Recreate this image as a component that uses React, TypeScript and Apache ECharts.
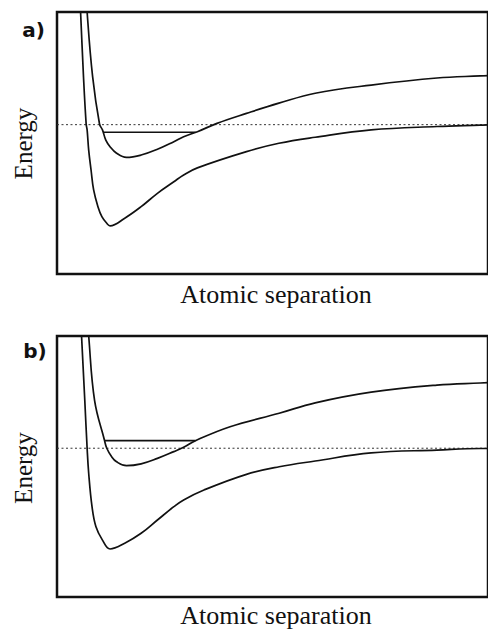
import React, { useEffect, useRef } from "react";
import * as echarts from "echarts";

// Panel a) — [separation, energy] (energy 0 = dissociation level)
const lowerA: [number, number][] = [
  [5.34, 50.6], [5.58, 43.0], [6.27, 18.3], [6.9, 0.25], [7.13, -2.0], [7.5, -9.7],
  [8.06, -17.3], [8.67, -24.9], [9.69, -31.3], [10.62, -35.1], [11.78, -37.65],
  [12.55, -38.6], [16.03, -35.7], [19.91, -31.3], [23.77, -26.2], [27.65, -21.8],
  [29.97, -19.2], [33.22, -16.5], [44.84, -10.3], [52.51, -7.1], [61.11, -4.8],
  [74.35, -2.0], [89.92, -0.7], [100.14, -0.2], [102, -0.1],
];
const upperA: [number, number][] = [
  [6.97, 50.6], [7.13, 43.0], [8.43, 18.3], [10.06, 0.25], [10.76, -2.0], [11.55, -5.9],
  [12.55, -8.4], [14.1, -10.9], [16.43, -12.5], [19.91, -11.6], [23.77, -9.4],
  [27.65, -6.5], [29.97, -4.6], [33.22, -2.7], [37.87, 0.5], [44.84, 4.3],
  [52.51, 8.2], [61.11, 12.0], [74.35, 15.1], [89.92, 17.8], [100.14, 18.6], [102, 18.7],
];
const levelA: [number, number][] = [[10.95, -2.9], [32.8, -2.9]];

// Panel b)
const lowerB: [number, number][] = [
  [5.58, 50.7], [5.81, 43.0], [6.58, 18.2], [7.13, 0.0], [7.5, -9.6], [8.29, -22.4],
  [9.22, -30.1], [10.76, -35.2], [12.55, -38.6], [16.03, -36.4], [19.91, -32.6],
  [23.77, -27.5], [27.65, -22.4], [29.97, -19.8], [34.78, -16.0], [44.84, -10.0],
  [52.58, -7.1], [61.11, -4.9], [74.35, -1.8], [89.92, -0.7], [100.14, -0.1], [102, -0.1],
];
const upperB: [number, number][] = [
  [7.2, 50.7], [7.5, 43.0], [8.9, 18.2], [11.22, 3.15], [11.78, 0.0], [12.94, -3.25],
  [14.1, -5.2], [16.43, -6.7], [19.91, -6.0], [23.77, -3.9], [27.65, -1.3],
  [29.97, 0.36], [32.76, 2.9], [40.96, 8.25], [52.58, 13.4], [61.11, 17.4],
  [74.35, 21.5], [89.92, 24.2], [100.14, 25.0], [102, 25.1],
];
const levelB: [number, number][] = [[11.25, 2.9], [32.76, 2.9]];

const asymptote: [number, number][] = [[0, 0], [102, 0]];

const panelLabels = ["a)", "b)"];
const xTitle = "Atomic separation";
const yTitle = "Energy";

const INK = "#111";

export default function App() {
  const ref = useRef<HTMLDivElement>(null);
  useEffect(() => {
    if (!ref.current) return;
    const chart = echarts.init(ref.current, undefined, { renderer: "svg" });
    const grids = [
      { left: 57, right: -8, top: 12, height: 262 },
      { left: 57, right: -8, top: 336, height: 261 },
    ];
    const curve = (data: [number, number][], idx: number) => ({
      type: "line",
      xAxisIndex: idx,
      yAxisIndex: idx,
      data,
      showSymbol: false,
      smooth: 0.4,
      clip: true,
      silent: true,
      lineStyle: { color: INK, width: 1.7 },
    });
    const flat = (data: [number, number][], idx: number, dashed: boolean) => ({
      type: "line",
      xAxisIndex: idx,
      yAxisIndex: idx,
      data,
      showSymbol: false,
      clip: true,
      silent: true,
      lineStyle: dashed
        ? { color: "#333", width: 1, type: [2, 2.5] }
        : { color: INK, width: 1.7 },
    });
    const textEls = [
      { x: 33.5, y: 30, text: panelLabels[0], font: "bold 20px 'DejaVu Sans'", rot: 0 },
      { x: 35, y: 350.5, text: panelLabels[1], font: "bold 20px 'DejaVu Sans'", rot: 0 },
      { x: 276, y: 294, text: xTitle, font: "26px 'Liberation Serif'", rot: 0 },
      { x: 276, y: 615, text: xTitle, font: "26px 'Liberation Serif'", rot: 0 },
      { x: 23.5, y: 143.5, text: yTitle, font: "25px 'Liberation Serif'", rot: Math.PI / 2 },
      { x: 23.5, y: 468, text: yTitle, font: "25px 'Liberation Serif'", rot: Math.PI / 2 },
    ];
    chart.setOption({
      animation: false,
      backgroundColor: "#fff",
      grid: grids.map((g) => ({ ...g, show: true, borderColor: INK, borderWidth: 2.5, backgroundColor: "transparent" })),
      xAxis: [0, 1].map((i) => ({
        type: "value",
        gridIndex: i,
        min: 0,
        max: 102,
        axisLine: { show: false },
        axisTick: { show: false },
        axisLabel: { show: false },
        splitLine: { show: false },
      })),
      yAxis: [0, 1].map((i) => ({
        type: "value",
        gridIndex: i,
        min: -57,
        max: 43,
        axisLine: { show: false },
        axisTick: { show: false },
        axisLabel: { show: false },
        splitLine: { show: false },
      })),
      series: [
        flat(asymptote, 0, true),
        curve(lowerA, 0),
        curve(upperA, 0),
        flat(levelA, 0, false),
        flat(asymptote, 1, true),
        curve(lowerB, 1),
        curve(upperB, 1),
        flat(levelB, 1, false),
      ],
      graphic: textEls.map((t) => ({
        type: "text",
        x: t.x,
        y: t.y,
        rotation: t.rot,
        silent: true,
        style: {
          text: t.text,
          font: t.font,
          fill: INK,
          align: "center",
          verticalAlign: "middle",
        },
      })),
    });
    return () => chart.dispose();
  }, []);
  return (
    <div
      ref={ref}
      style={{ position: "absolute", left: 0, top: 0, width: 488, height: 631 }}
    />
  );
}
